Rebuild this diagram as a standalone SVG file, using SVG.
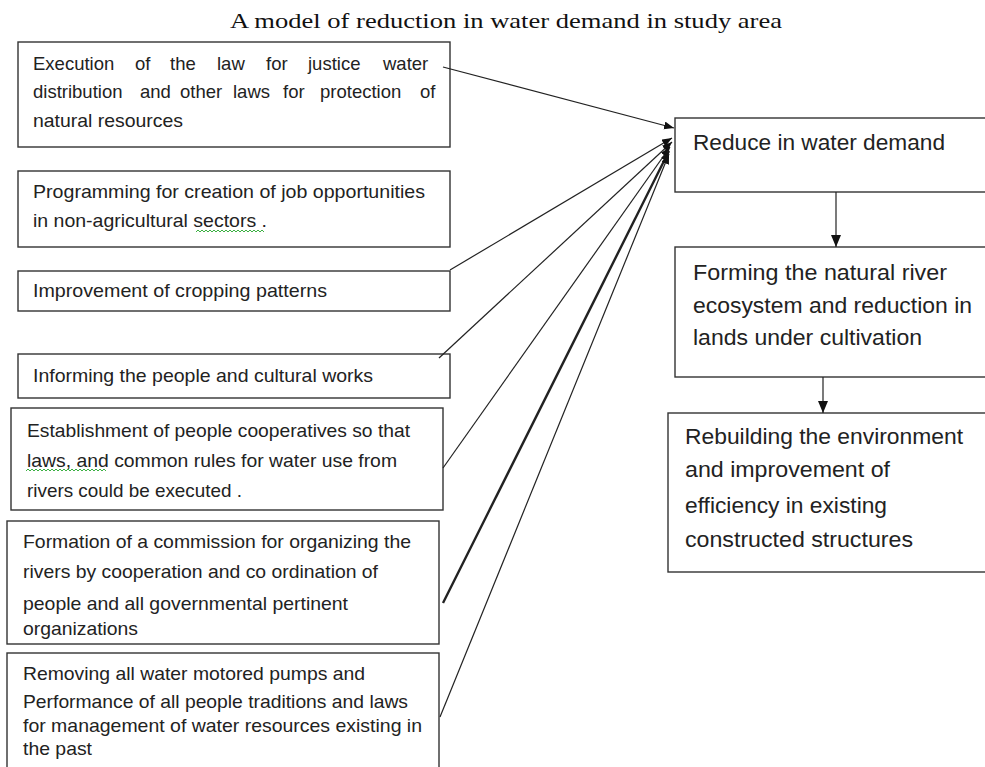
<svg xmlns="http://www.w3.org/2000/svg" width="985" height="767" viewBox="0 0 985 767">
<style>
.box{fill:#fff;stroke:#333;stroke-width:1.4}
.t{font-family:"Liberation Sans",Arial,sans-serif;font-size:18.5px;fill:#222}
.tr{font-family:"Liberation Sans",Arial,sans-serif;font-size:22px;fill:#222}
.title{font-family:"Liberation Serif","Times New Roman",serif;font-size:21px;fill:#111}
.c{stroke:#222;stroke-width:1.2;fill:none}
.sq{stroke:#3cb043;stroke-width:1;fill:none}
</style>
<defs>
<marker id="ah" markerUnits="userSpaceOnUse" markerWidth="12" markerHeight="10" refX="10" refY="4" orient="auto">
<path d="M0,0 L10,4 L0,8 Z" fill="#111"/>
</marker>
<marker id="av" markerUnits="userSpaceOnUse" markerWidth="14" markerHeight="12" refX="12" refY="5" orient="auto">
<path d="M0,0 L12,5 L0,10 Z" fill="#111"/>
</marker>
</defs>
<rect width="985" height="767" fill="#fff"/>
<text class="title" x="230" y="28" textLength="552" lengthAdjust="spacingAndGlyphs">A model of reduction in water demand in study area</text>

<g id="n1">
<rect class="box" x="18" y="42" width="432" height="105"/>
<text class="t" y="70"><tspan x="33">Execution</tspan><tspan x="135">of</tspan><tspan x="170">the</tspan><tspan x="217">law</tspan><tspan x="266">for</tspan><tspan x="308">justice</tspan><tspan x="383">water</tspan></text>
<text class="t" y="98"><tspan x="33">distribution</tspan><tspan x="140">and</tspan><tspan x="180">other</tspan><tspan x="233">laws</tspan><tspan x="283">for</tspan><tspan x="320">protection</tspan><tspan x="420">of</tspan></text>
<text class="t" x="33" y="127" textLength="150" lengthAdjust="spacingAndGlyphs">natural resources</text>
</g>
<g id="n2">
<rect class="box" x="18" y="171" width="432" height="76"/>
<text class="t" x="33" y="198" textLength="392" lengthAdjust="spacingAndGlyphs">Programming for creation of job opportunities</text>
<text class="t" x="33" y="227" textLength="234" lengthAdjust="spacingAndGlyphs">in non-agricultural sectors .</text>
<path class="sq" d="M196,232 l2,-2 l2,2 l2,-2 l2,2 l2,-2 l2,2 l2,-2 l2,2 l2,-2 l2,2 l2,-2 l2,2 l2,-2 l2,2 l2,-2 l2,2 l2,-2 l2,2 l2,-2 l2,2 l2,-2 l2,2 l2,-2 l2,2 l2,-2 l2,2 l2,-2 l2,2 l2,-2 l2,2 l2,-2 l2,2 l2,-2 l2,2"/>
</g>
<g id="n3">
<rect class="box" x="18" y="271" width="432" height="40"/>
<text class="t" x="33" y="297" textLength="294" lengthAdjust="spacingAndGlyphs">Improvement of cropping patterns</text>
</g>
<g id="n4">
<rect class="box" x="18" y="354" width="432" height="44"/>
<text class="t" x="33" y="382" textLength="340" lengthAdjust="spacingAndGlyphs">Informing the people and cultural works</text>
</g>
<g id="n5">
<rect class="box" x="11" y="408" width="432" height="102"/>
<text class="t" x="27" y="437" textLength="383" lengthAdjust="spacingAndGlyphs">Establishment of people cooperatives so that</text>
<text class="t" x="27" y="467" textLength="370" lengthAdjust="spacingAndGlyphs">laws, and common rules for water use from</text>
<text class="t" x="27" y="497" textLength="215" lengthAdjust="spacingAndGlyphs">rivers could be executed .</text>
<path class="sq" d="M26,471 l2,-2 l2,2 l2,-2 l2,2 l2,-2 l2,2 l2,-2 l2,2 l2,-2 l2,2 l2,-2 l2,2 l2,-2 l2,2 l2,-2 l2,2 l2,-2 l2,2 l2,-2 l2,2 l2,-2 l2,2 l2,-2 l2,2 l2,-2 l2,2 l2,-2 l2,2 l2,-2 l2,2 l2,-2 l2,2 l2,-2 l2,2 l2,-2 l2,2 l2,-2 l2,2 l2,-2 l2,2"/>
</g>
<g id="n6">
<rect class="box" x="7" y="521" width="432" height="123"/>
<text class="t" x="23" y="548" textLength="388" lengthAdjust="spacingAndGlyphs">Formation of a commission for organizing the</text>
<text class="t" x="23" y="578" textLength="355" lengthAdjust="spacingAndGlyphs">rivers by cooperation and co ordination of</text>
<text class="t" x="23" y="610" textLength="325" lengthAdjust="spacingAndGlyphs">people and all governmental pertinent</text>
<text class="t" x="23" y="635" textLength="115" lengthAdjust="spacingAndGlyphs">organizations</text>
</g>
<g id="n7">
<rect class="box" x="7" y="653" width="432" height="125"/>
<text class="t" x="23" y="680" textLength="342" lengthAdjust="spacingAndGlyphs">Removing all water motored pumps and</text>
<text class="t" x="23" y="708" textLength="385" lengthAdjust="spacingAndGlyphs">Performance of all people traditions and laws</text>
<text class="t" x="23" y="732" textLength="399" lengthAdjust="spacingAndGlyphs">for management of water resources existing in</text>
<text class="t" x="23" y="755" textLength="69" lengthAdjust="spacingAndGlyphs">the past</text>
</g>
<g id="r1">
<rect class="box" x="675" y="118" width="330" height="74"/>
<text class="tr" x="693" y="150" textLength="252" lengthAdjust="spacingAndGlyphs">Reduce in water demand</text>
</g>
<g id="r2">
<rect class="box" x="675" y="247" width="330" height="130"/>
<text class="tr" x="693" y="280" textLength="254" lengthAdjust="spacingAndGlyphs">Forming the natural river</text>
<text class="tr" x="693" y="313" textLength="279" lengthAdjust="spacingAndGlyphs">ecosystem and reduction in</text>
<text class="tr" x="693" y="345" textLength="229" lengthAdjust="spacingAndGlyphs">lands under cultivation</text>
</g>
<g id="r3">
<rect class="box" x="668" y="413" width="340" height="159"/>
<text class="tr" x="685" y="444" textLength="278" lengthAdjust="spacingAndGlyphs">Rebuilding the environment</text>
<text class="tr" x="685" y="477" textLength="205" lengthAdjust="spacingAndGlyphs">and improvement of</text>
<text class="tr" x="685" y="513" textLength="202" lengthAdjust="spacingAndGlyphs">efficiency in existing</text>
<text class="tr" x="685" y="547" textLength="228" lengthAdjust="spacingAndGlyphs">constructed structures</text>
</g>

<g id="connectors">
<line class="c" x1="443" y1="67" x2="674" y2="128" marker-end="url(#ah)"/>
<line class="c" x1="450" y1="270" x2="672" y2="138" marker-end="url(#ah)"/>
<line class="c" x1="439" y1="358" x2="672" y2="142" marker-end="url(#ah)"/>
<line class="c" x1="443" y1="468" x2="670" y2="147" marker-end="url(#ah)"/>
<line class="c" x1="443" y1="603" x2="669" y2="151" marker-end="url(#ah)" style="stroke-width:2.4"/>
<line class="c" x1="440" y1="717" x2="669" y2="154" marker-end="url(#ah)"/>
<line class="c" x1="836" y1="192" x2="836" y2="247" marker-end="url(#av)"/>
<line class="c" x1="823" y1="377" x2="823" y2="413" marker-end="url(#av)"/>
</g>
</svg>
